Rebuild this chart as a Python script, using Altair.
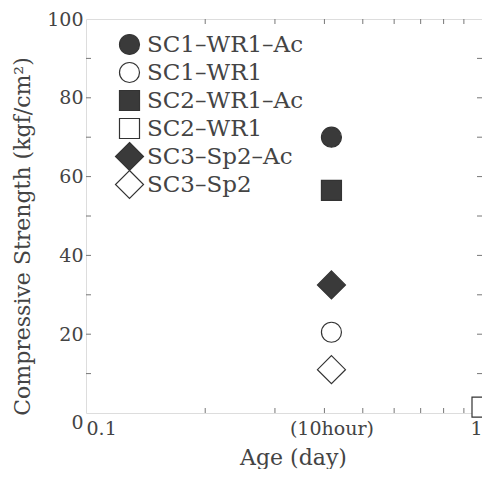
import altair as alt
import pandas as pd

# ---- data ----
series = ["SC1–WR1–Ac", "SC1–WR1", "SC2–WR1–Ac", "SC2–WR1", "SC3–Sp2–Ac", "SC3–Sp2"]
age_day = [0.4167, 0.4167, 0.4167, 1.0, 0.4167, 0.4167]
strength = [70.0, 20.5, 56.5, 1.5, 32.5, 11.0]

shapes = ["circle", "circle", "square", "square",
          "M0,-1.4L1.4,0L0,1.4L-1.4,0Z", "M0,-1.4L1.4,0L0,1.4L-1.4,0Z"]
fills = ["#3a3a3a", "white", "#3a3a3a", "white", "#3a3a3a", "white"]
strokes = ["#333333"] * 6

x_tick_vals = [0.2, 0.3, 0.4, 0.5, 0.6, 0.7, 0.8, 0.9]
y_tick_vals = [10, 20, 30, 40, 50, 60, 70, 80, 90]
x_label_vals = [0.1, 0.4167, 1.0]
y_label_vals = [0, 20, 40, 60, 80, 100]

W, H = 396, 394
FONT = "DejaVu Serif"
TXT = "#444444"
LINE = "#777777"

df = pd.DataFrame({"series": series, "age": age_day, "strength": strength})
xt = pd.DataFrame({"age": x_tick_vals})
yt = pd.DataFrame({"strength": y_tick_vals})

xscale = alt.Scale(type="log", domain=[0.1, 1], nice=False)
yscale = alt.Scale(domain=[0, 100], nice=False)

x_axis = alt.Axis(values=x_label_vals, grid=False, ticks=False, domain=False,
                  labelExpr="datum.value < 0.15 ? '0.1' : (datum.value > 0.9 ? '1' : '(10hour)')",
                  labelAlign={"condition": [{"test": "datum.value < 0.15", "value": "left"},
                                            {"test": "datum.value > 0.9", "value": "right"}],
                              "value": "center"},
                  labelFont=FONT, labelFontSize=19, labelColor=TXT, labelPadding=6,
                  labelOverlap=False, labelBound=False, labelFlush=False,
                  title="Age (day)", titleFont=FONT, titleFontSize=22,
                  titleFontWeight="normal", titleColor=TXT,
                  titleX=207, titleY=51, titleAlign="center", titleBaseline="alphabetic")
y_axis = alt.Axis(values=y_label_vals, grid=False, ticks=False, domain=False,
                  labelBaseline={"condition": {"test": "datum.value == 0", "value": "top"}, "value": "middle"},
                  labelFont=FONT, labelFontSize=19, labelColor=TXT, labelPadding=3,
                  labelOverlap=False, labelFlush=False,
                  title="Compressive Strength (kgf/cm²)", titleFont=FONT,
                  titleFontSize=22, titleFontWeight="normal", titleColor=TXT,
                  titleX=-57, titleY=217, titleAngle=270, titleBaseline="alphabetic",
                  titleAlign="center")

leg = alt.Legend(orient="none", legendX=32, legendY=14, title=None,
                 labelFont=FONT, labelFontSize=23, labelColor=TXT,
                 symbolSize=400, symbolStrokeColor="#333333", symbolStrokeWidth=1.2,
                 labelOffset=6, rowPadding=-9, padding=0, labelLimit=300,
                 gridAlign="all")

points = alt.Chart(df).mark_point(size=400, strokeWidth=1.2,
                                  opacity=1, filled=False, clip=False).encode(
    x=alt.X("age:Q", scale=xscale, axis=x_axis),
    y=alt.Y("strength:Q", scale=yscale, axis=y_axis),
    shape=alt.Shape("series:N", scale=alt.Scale(domain=series, range=shapes), legend=leg, sort=series),
    fill=alt.Fill("series:N", scale=alt.Scale(domain=series, range=fills), legend=leg, sort=series),
    stroke=alt.Stroke("series:N", scale=alt.Scale(domain=series, range=strokes), legend=leg, sort=series),
)

tick_left = alt.Chart(yt).mark_rule(color=LINE, strokeWidth=1).encode(
    y=alt.Y("strength:Q", scale=yscale, axis=y_axis), x=alt.value(0), x2=alt.value(5))
tick_right = alt.Chart(yt).mark_rule(color=LINE, strokeWidth=1).encode(
    y=alt.Y("strength:Q", scale=yscale, axis=y_axis), x=alt.value(W - 5), x2=alt.value(W))
tick_bottom = alt.Chart(xt).mark_rule(color=LINE, strokeWidth=1).encode(
    x=alt.X("age:Q", scale=xscale, axis=x_axis), y=alt.value(H - 5), y2=alt.value(H))
tick_top = alt.Chart(xt).mark_rule(color=LINE, strokeWidth=1).encode(
    x=alt.X("age:Q", scale=xscale, axis=x_axis), y=alt.value(0), y2=alt.value(5))

chart = alt.layer(points, tick_left, tick_right, tick_bottom, tick_top).properties(
    width=W, height=H,
    autosize=alt.AutoSizeParams(type="none"),
    padding={"left": 78, "top": 11, "right": 0, "bottom": 56},
).configure_view(stroke=LINE, strokeWidth=1.2).configure(background="white")

chart.save("out.html", embed_options={"renderer": "svg", "actions": False})
